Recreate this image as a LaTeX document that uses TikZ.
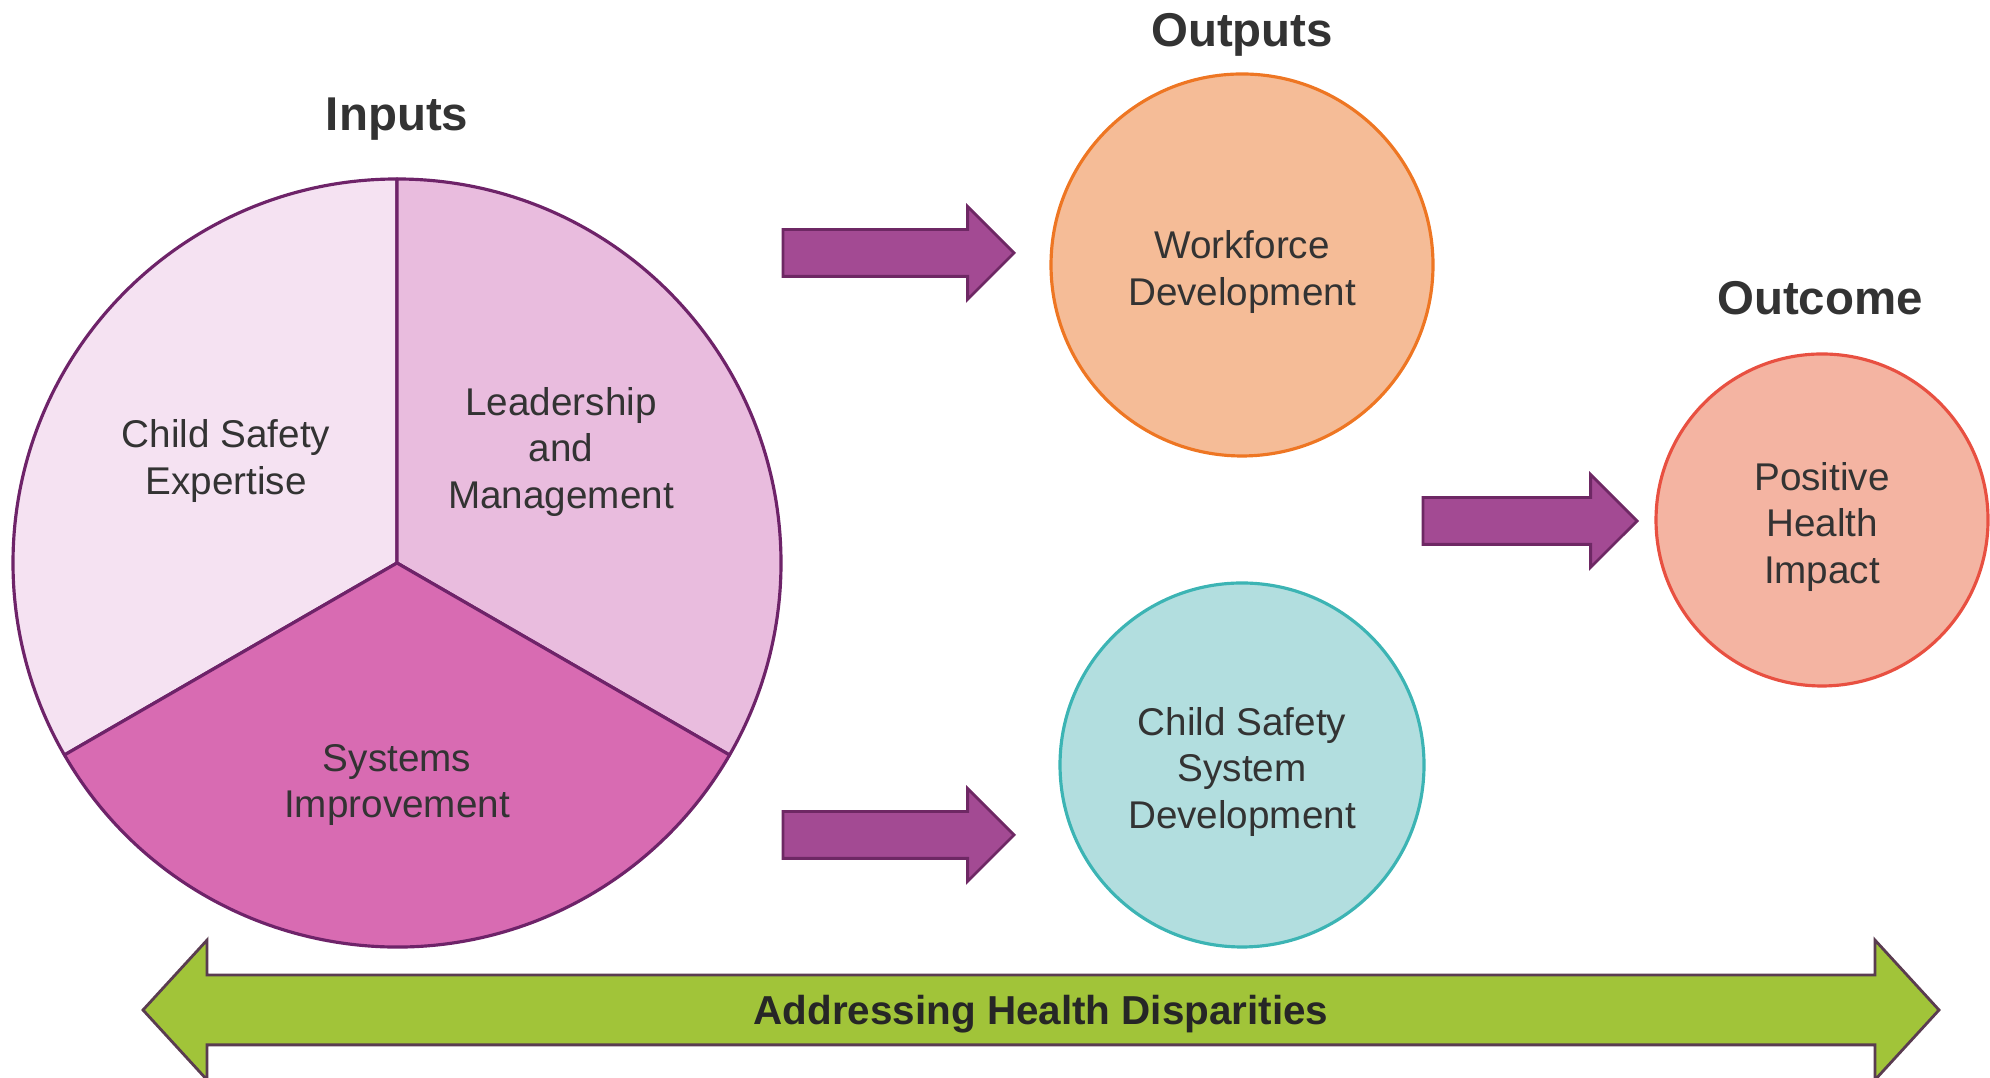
\documentclass[tikz,border=0pt]{standalone}
\usepackage{fontspec}
\setmainfont{Liberation Sans}
\usepackage{tikz}
\usetikzlibrary{positioning,shapes.arrows}
\definecolor{txt}{RGB}{51,51,51}
\definecolor{pieline}{RGB}{110,35,105}
\definecolor{pieA}{RGB}{245,226,242}
\definecolor{pieB}{RGB}{233,188,222}
\definecolor{pieC}{RGB}{216,107,178}
\definecolor{arrfill}{RGB}{163,74,147}
\definecolor{arrline}{RGB}{110,40,100}
\definecolor{wfFill}{RGB}{245,188,151}
\definecolor{wfLine}{RGB}{238,118,35}
\definecolor{csFill}{RGB}{178,222,223}
\definecolor{csLine}{RGB}{60,180,180}
\definecolor{phFill}{RGB}{244,180,162}
\definecolor{phLine}{RGB}{232,80,65}
\definecolor{band}{RGB}{161,196,57}
\definecolor{bandline}{RGB}{90,60,80}
\tikzset{>=latex}

\begin{document}
\begin{tikzpicture}
        \tikzset{
        title/.style={font=\fontsize{13.5}{16}\selectfont\bfseries, text=txt, anchor=base, inner sep=0pt},
        body/.style={font=\fontsize{11}{13.3}\selectfont, text=txt, align=center},
        slice/.style={draw=pieline, line width=0.9pt, line join=round},
        bubble/.style={circle, line width=0.9pt},
        fatarrow/.style={single arrow, draw=arrline, fill=arrfill, line width=0.8pt, inner xsep=0pt, inner ysep=0.22cm,
                         single arrow head extend=0.23cm, outer sep=0pt, anchor=tail},
        bandarrow/.style={double arrow, draw=bandline, fill=band, line width=0.8pt, inner xsep=0pt, inner ysep=0.335cm,
                          double arrow head extend=0.35cm, double arrow tip angle=95, outer sep=0pt, minimum height=17.96cm},
        }

        \useasboundingbox (0,0) rectangle (19.90,10.78);

        \coordinate (pc) at (3.97,5.15); % pie centre
        \def\R{3.84}

        % Pie (inputs).
        \filldraw [slice,fill=pieA] (pc) -- ++(90:\R)  arc[start angle=90,  end angle=210, radius=\R] -- cycle;
        \filldraw [slice,fill=pieB] (pc) -- ++(90:\R)  arc[start angle=90,  end angle=-30, radius=\R] -- cycle;
        \filldraw [slice,fill=pieC] (pc) -- ++(210:\R) arc[start angle=210, end angle=330, radius=\R] -- cycle;

        \path (2.26,6.17) node[body] (cse)  {Child Safety\\Expertise};
        \path (5.61,6.26) node[body] (lead) {Leadership\\and\\Management};
        \path (3.97,2.93) node[body] (sys)  {Systems\\Improvement};

        % Headings.
        \path (3.97,9.47)   node[title] (inputs)  {Inputs};
        \path (12.42,10.31) node[title] (outputs) {Outputs};
        \path (18.20,7.63)  node[title] (outcome) {Outcome};

        % Outputs and outcome.
        \path (12.42,8.13) node[bubble,fill=wfFill,draw=wfLine,minimum size=3.82cm] (wf)  {};
        \path (12.42,3.13) node[bubble,fill=csFill,draw=csLine,minimum size=3.64cm] (csd) {};
        \path (18.22,5.58) node[bubble,fill=phFill,draw=phLine,minimum size=3.32cm] (phi) {};

        \path ([yshift=-0.07cm]wf.center)  node[body] (wfText)  {Workforce\\Development};
        \path ([yshift=-0.07cm]csd.center) node[body] (csdText) {Child Safety\\System\\Development};
        \path ([yshift=-0.07cm]phi.center) node[body] (phiText) {Positive\\Health\\Impact};

        % Block arrows.
        \path (7.83,8.25)  node[fatarrow,minimum height=2.31cm] (toWf)  {};
        \path (7.83,2.43)  node[fatarrow,minimum height=2.31cm] (toCsd) {};
        \path (14.23,5.57) node[fatarrow,minimum height=2.14cm] (toPhi) {};

        % Band along the bottom.
        \path (10.41,0.68) node[bandarrow] (disp) {};
        \path (10.41,0.53) node[title,font=\fontsize{11.5}{14}\selectfont\bfseries,text=black!85] (dispText) {Addressing Health Disparities};
\end{tikzpicture}
\end{document}
